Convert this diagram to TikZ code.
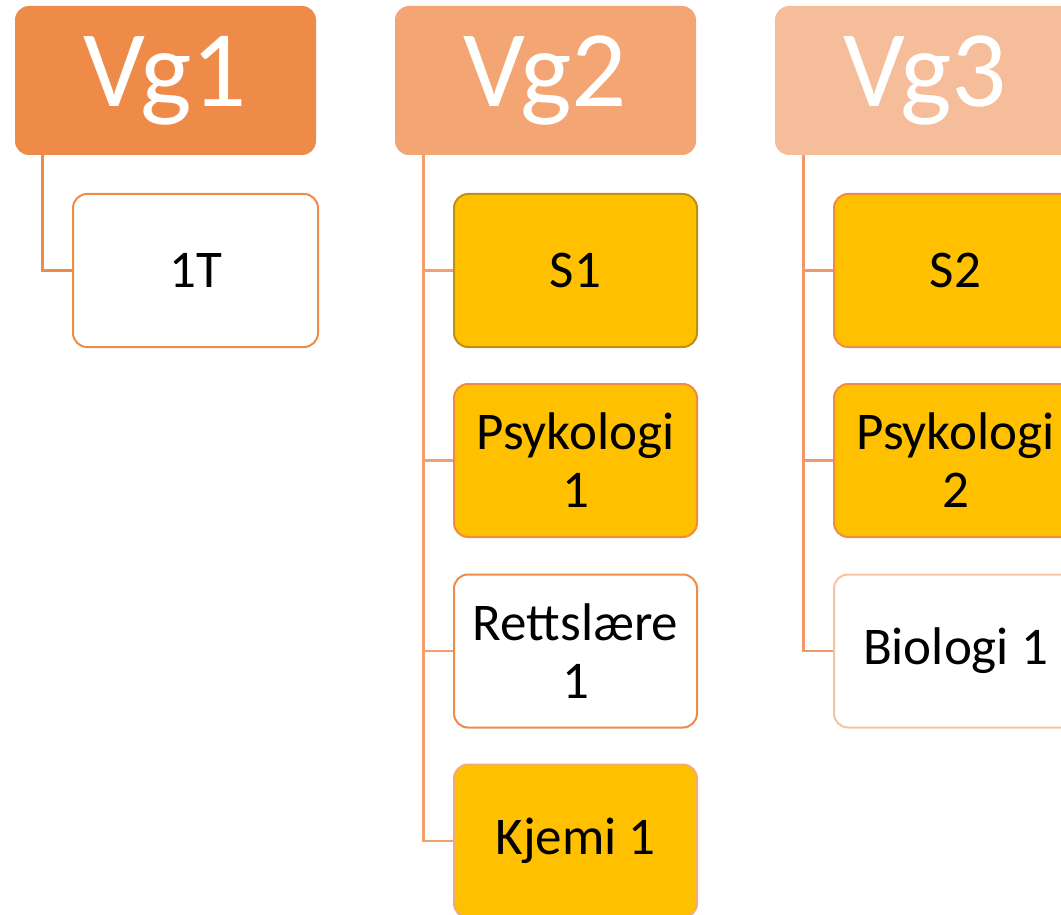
\documentclass[tikz,border=0pt]{standalone}
\usepackage{fontspec}
\setmainfont{Carlito}
\definecolor{hA}{RGB}{238,139,73}
\definecolor{hB}{RGB}{243,166,115}
\definecolor{hC}{RGB}{245,189,153}
\definecolor{lnA}{RGB}{238,139,73}
\definecolor{lnB}{RGB}{243,160,110}
\definecolor{lnC}{RGB}{240,152,104}
\definecolor{gold}{RGB}{255,192,0}
\definecolor{goldedge}{RGB}{190,145,20}
\definecolor{edgeA}{RGB}{238,139,73}
\definecolor{edgeB}{RGB}{244,170,120}
\definecolor{edgeC}{RGB}{246,196,162}
\tikzset{
  header/.style={rounded corners=14pt, minimum width=301pt, minimum height=149pt,
    inner sep=0pt, text=white, font=\fontsize{109}{112}\selectfont},
  child/.style={rounded corners=14pt, minimum width=243pt, minimum height=153pt,
    inner sep=0pt, line width=2pt, align=center, text=black,
    font=\fontsize{53}{58}\selectfont},
  conn/.style={line width=2.8pt},
}
\begin{document}
\begin{tikzpicture}[x=1pt,y=-1pt]
\useasboundingbox (0,0) rectangle (1061,915);
\clip (0,0) rectangle (1061,915);
% headers
\node[header, fill=hA] (h1) at (165.5,80.5) {Vg1};
\node[header, fill=hB] (h2) at (545.5,80.5) {Vg2};
\node[header, fill=hC] (h3) at (925.5,80.5) {Vg3};
% trunk tops
\coordinate (t1) at ([xshift=28pt]h1.south west);
\coordinate (t2) at ([xshift=29pt]h2.south west);
\coordinate (t3) at ([xshift=29pt]h3.south west);
% children column 1
\node[child, draw=edgeA, fill=white, minimum width=245pt] (c1) at (195.5,270.5) {1T};
% column 2
\node[child, draw=goldedge, fill=gold] (s1) at (575.5,270.5) {S1};
\node[child, draw=edgeA, fill=gold] (p1) at (575.5,460.5) {Psykologi\\1};
\node[child, draw=edgeA, fill=white] (r1) at (575.5,651) {Rettslære\\1};
\node[child, draw=edgeB, fill=gold] (k1) at (575.5,841) {Kjemi 1};
% column 3
\node[child, draw=edgeA, fill=gold] (s2) at (955.5,270.5) {S2};
\node[child, draw=edgeA, fill=gold] (p2) at (955.5,460.5) {Psykologi\\2};
\node[child, draw=edgeC, fill=white] (b1) at (955.5,651) {Biologi 1};
% connectors
\draw[conn, lnA] (t1) |- (c1.west);
\draw[conn, lnB] (t2) |- (s1.west);
\draw[conn, lnB] (t2) |- (p1.west);
\draw[conn, lnB] (t2) |- (r1.west);
\draw[conn, lnB] (t2) |- (k1.west);
\draw[conn, lnC] (t3) |- (s2.west);
\draw[conn, lnC] (t3) |- (p2.west);
\draw[conn, lnC] (t3) |- (b1.west);
\end{tikzpicture}
\end{document}
